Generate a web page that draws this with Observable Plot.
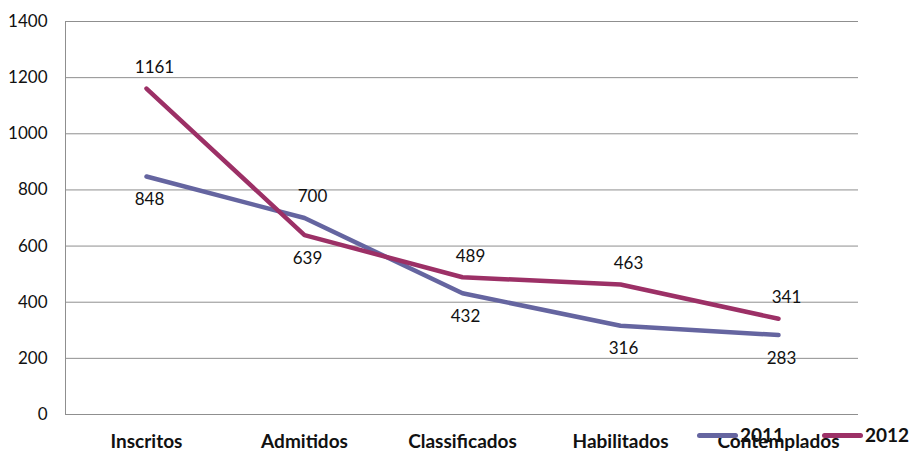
<!DOCTYPE html>
<html>
<head>
<meta charset="utf-8">
<script src="https://cdn.jsdelivr.net/npm/d3@7"></script>
<script src="https://cdn.jsdelivr.net/npm/@observablehq/plot@0.6"></script>
<style>
  html, body { margin: 0; padding: 0; background: #fff; }
  #wrap { position: relative; width: 913px; height: 452px; font-family: Lato, "Open Sans", sans-serif; }
  .legend { position: absolute; top: 425px; display: flex; align-items: center; font-weight: bold; font-size: 19px; color: #111; line-height: 20px; }
  .legend .sw { width: 41px; height: 5px; border-radius: 3px; margin-right: 2px; }
</style>
</head>
<body>
<div id="wrap"></div>
<script>
const categories = ["Inscritos", "Admitidos", "Classificados", "Habilitados", "Contemplados"];
const series = ["2011", "2012"];
const values2011 = [848, 700, 432, 316, 283];
const values2012 = [1161, 639, 489, 463, 341];
const yTicks = [0, 200, 400, 600, 800, 1000, 1200, 1400];
const colors = ["#6565a0", "#9c3066"];

const rows = [];
categories.forEach((c, i) => {
  const a = values2011[i], b = values2012[i];
  rows.push({cat: c, year: "2011", value: a, above: a >= b});
  rows.push({cat: c, year: "2012", value: b, above: b > a});
});

const chart = Plot.plot({
  width: 913,
  height: 452,
  marginLeft: 65,
  marginRight: 55,
  marginTop: 21,
  marginBottom: 38,
  style: {fontFamily: "Lato, 'Open Sans', sans-serif", background: "#fff"},
  x: {domain: categories, type: "band", padding: 0, label: null},
  y: {domain: [0, 1400], label: null},
  color: {domain: series, range: colors},
  marks: [
    Plot.gridY(yTicks, {stroke: "#8f8f8f", strokeOpacity: 1, strokeWidth: 1}),
    Plot.frame({anchor: "left", stroke: "#8f8f8f"}),
    Plot.axisY(yTicks, {tickSize: 0, tickPadding: 18, fontSize: 17, fill: "#111", tickFormat: d => String(d)}),
    Plot.axisX({tickSize: 0, tickPadding: 20, fontSize: 19, fontWeight: "bold", fill: "#111"}),
    Plot.line(rows, {x: "cat", y: "value", z: "year", stroke: "year", strokeWidth: 4.5, strokeLinecap: "round", strokeLinejoin: "round"}),
    Plot.text(rows.filter(d => d.above), {x: "cat", y: "value", text: d => String(d.value), dy: -21, dx: 8, fontSize: 17, fill: "#111"}),
    Plot.text(rows.filter(d => !d.above), {x: "cat", y: "value", text: d => String(d.value), dy: 23, dx: 3, fontSize: 17, fill: "#111"})
  ]
});
document.getElementById("wrap").appendChild(chart);

// legend overlaid at bottom right, like the original
const wrap = document.getElementById("wrap");
const lefts = [697, 822];
series.forEach((s, i) => {
  const el = document.createElement("div");
  el.className = "legend";
  el.style.left = lefts[i] + "px";
  el.innerHTML = `<div class="sw" style="background:${colors[i]}"></div><span>${s}</span>`;
  wrap.appendChild(el);
});
</script>
</body>
</html>
